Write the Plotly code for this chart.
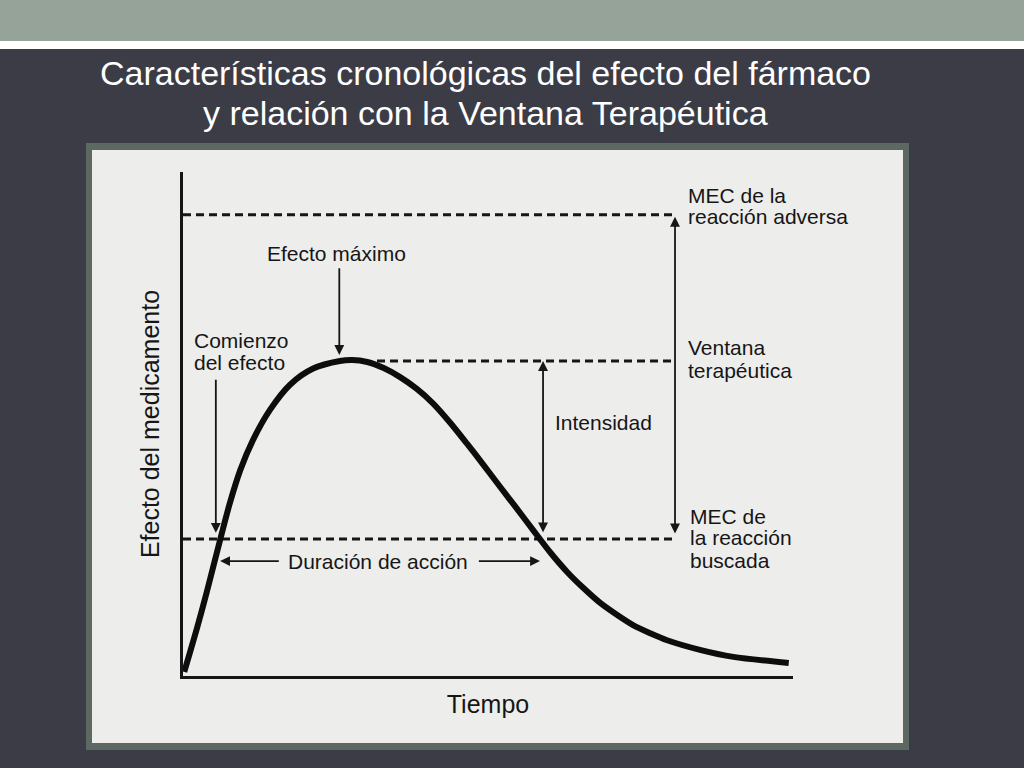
import plotly.graph_objects as go

W, H = 1024, 768

# curve of the drug effect over time (time 0-100, effect 0-100)
curve_time = [0.2, 2.3, 3.9, 6.1, 7.7, 9.4, 11.5, 14.3, 17.6, 21.4, 25.8, 27.8, 30.3,
              33.0, 35.7, 38.4, 41.1, 43.9, 46.7, 49.4, 52.1, 54.9, 57.6, 60.4,
              63.2, 65.8, 68.6, 71.4, 74.0, 76.8, 79.6, 85.0, 90.5, 99.6]
curve_effect = [0.8, 9.5, 16.6, 27.0, 34.3, 40.8, 46.8, 52.8, 57.8, 61.0, 62.5, 62.7, 62.3,
                61.1, 59.3, 57.0, 54.1, 50.3, 46.1, 41.9, 37.6, 33.2, 28.9, 24.5,
                20.6, 17.5, 14.5, 12.1, 10.1, 8.5, 7.1, 5.2, 3.8, 2.6]

# reference levels
mec_adverse = 91.5
peak_effect = 62.5
mec_wanted = 27.2

# times of the markers
t_peak = 25.7
t_onset = 5.4
t_onset_cross = 6.1
t_end_cross = 58.7
t_intensity = 59.2
t_window = 80.9
t_dash_start = 31.9

title_lines = ["Características cronológicas del efecto del fármaco",
               "y relación con la Ventana Terapéutica"]

FONT = "Liberation Sans, Arial, sans-serif"
INK = "#161616"


def px(x):
    return x / W


def py(y):
    return 1 - y / H


fig = go.Figure()

# slide background pieces
fig.add_shape(type="rect", xref="paper", yref="paper", x0=0, x1=1, y0=py(41), y1=1,
              fillcolor="#95a398", line=dict(width=0), layer="below")
fig.add_shape(type="rect", xref="paper", yref="paper", x0=0, x1=1, y0=py(49), y1=py(41),
              fillcolor="#ffffff", line=dict(width=0), layer="below")
fig.add_shape(type="rect", xref="paper", yref="paper", x0=px(86), x1=px(909), y0=py(750), y1=py(143),
              fillcolor="#5d6863", line=dict(width=0), layer="below")
fig.add_shape(type="rect", xref="paper", yref="paper", x0=px(92), x1=px(903), y0=py(743), y1=py(150),
              fillcolor="#ededec", line=dict(width=0), layer="below")

# dashed reference lines
for x_start, level in [(0, mec_adverse), (t_dash_start, peak_effect), (0, mec_wanted)]:
    fig.add_trace(go.Scatter(x=[x_start, t_window], y=[level, level], mode="lines",
                             line=dict(color=INK, width=3, dash="8px,5px"), hoverinfo="skip"))

# main curve
fig.add_trace(go.Scatter(x=curve_time, y=curve_effect, mode="lines",
                         line=dict(color="#0d0d0d", width=6, shape="spline", smoothing=0.8),
                         hoverinfo="skip"))


def arrow(x0, y0, x1, y1, both=False):
    fig.add_annotation(x=x1, y=y1, ax=x0, ay=y0, xref="x", yref="y", axref="x", ayref="y",
                       text="", showarrow=True, arrowhead=2, arrowsize=1.1, arrowwidth=1.8,
                       arrowcolor=INK, arrowside="end+start" if both else "end",
                       startarrowhead=2, startarrowsize=1.1)


arrow(t_peak, 81.2, t_peak, 63.7)
arrow(t_onset, 59.1, t_onset, 28.4)
arrow(16.0, 22.8, t_onset_cross, 22.8)
arrow(48.4, 22.8, t_end_cross, 22.8)
arrow(t_intensity, 28.2, t_intensity, peak_effect, both=True)
arrow(t_window, mec_wanted + 0.8, t_window, mec_adverse - 0.4, both=True)


def label(x, y, text, anchor="left"):
    fig.add_annotation(x=x, y=y, xref="x", yref="y", text=text, showarrow=False,
                       xanchor=anchor, yanchor="middle",
                       font=dict(family=FONT, size=21, color=INK))


label(t_peak - 0.4, 83.9, "Efecto máximo", "center")
label(1.5, 66.5, "Comienzo")
label(1.5, 62.3, "del efecto")
label(60.9, 50.2, "Intensidad")
label(32.1, 22.8, "Duración de acción", "center")
label(82.7, 95.4, "MEC de la")
label(82.7, 91.1, "reacción adversa")
label(82.7, 65.1, "Ventana")
label(82.7, 60.7, "terapéutica")
label(83.1, 31.7, "MEC de")
label(83.1, 27.4, "la reacción")
label(83.1, 23.0, "buscada")

# slide title
for i, line in enumerate(title_lines):
    fig.add_annotation(x=px(485), y=py(73 + 40 * i), xref="paper", yref="paper",
                       text=line, showarrow=False, xanchor="center", yanchor="middle",
                       font=dict(family=FONT, size=34, color="white"))

fig.update_layout(
    width=W, height=H,
    margin=dict(l=0, r=0, t=0, b=0),
    paper_bgcolor="#3b3c46",
    plot_bgcolor="rgba(0,0,0,0)",
    showlegend=False,
    xaxis=dict(domain=[px(183), px(793)], range=[0, 100.3], showline=True, linecolor=INK,
               linewidth=3, showgrid=False, zeroline=False, showticklabels=False, ticks="",
               title=dict(text="Tiempo", standoff=18, font=dict(family=FONT, size=25, color=INK))),
    yaxis=dict(domain=[py(676), py(172)], range=[0, 100], showline=True, linecolor=INK,
               linewidth=3, showgrid=False, zeroline=False, showticklabels=False, ticks="",
               title=dict(text="Efecto del medicamento", standoff=14,
                          font=dict(family=FONT, size=25, color=INK))),
)

fig.write_html("out.html", config={"displayModeBar": False},
               post_script="document.body.style.margin='0';")
